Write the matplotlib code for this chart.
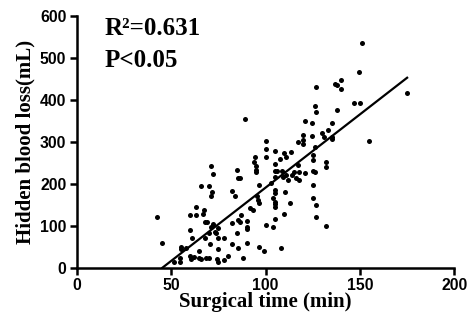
#!/usr/bin/env python3
"""Scatter of hidden blood loss against surgical time with linear fit."""

import numpy as np
import matplotlib
matplotlib.use("Agg")
import matplotlib.pyplot as plt

surgical_time = [
    42.7, 45, 51.7, 54.7, 54.7, 55, 55, 58, 60, 60, 61, 60, 60.5, 62, 63, 63,
    65, 65, 66, 66, 67, 67.4, 68, 68, 68.5, 69, 70, 70, 70, 70.6, 71, 71, 71.7,
    72, 71.3, 72, 73, 74, 74.3, 75, 75, 75, 74.8, 78, 78, 80, 82, 82, 82, 84,
    85, 85.4, 85, 85.4, 85.4, 86.5, 86.5, 87, 88, 89, 90, 90, 90, 90, 92, 93.5,
    94, 94.4, 95, 95, 95, 95.3, 96, 96.4, 96.7, 96.4, 99, 100, 100, 100, 100,
    102.7, 104, 105, 105, 105, 105, 105, 105, 104, 105, 105, 105, 105, 106,
    107.7, 108, 108.6, 109.4, 110, 110.3, 110, 111, 111, 112, 113, 113.5, 114,
    115, 116, 117, 117, 118, 118, 120, 120, 120, 121, 121, 124.4, 124.4, 125,
    125, 125, 125, 125, 126, 126, 126, 126.7, 126.7, 126.7, 126.7, 130, 131,
    132, 132, 132, 133, 135, 135, 135, 137, 138, 138, 140, 140, 147, 150,
    149.7, 151, 155, 175,
]
blood_loss = [
    121, 58, 13, 22, 13, 50, 44, 46, 125, 90, 71, 28, 20, 26, 144, 125,
    40, 24, 20, 194, 127, 137, 110, 70, 22, 110, 82, 24, 194, 56, 243, 171, 181,
    222, 98, 104, 86, 82, 20, 13, 44, 71, 94, 71, 18, 28, 183, 107, 56, 171,
    232, 213, 82, 113, 48, 213, 110, 125, 24, 353, 111, 98, 93, 58, 141, 137,
    252, 264, 243, 232, 229, 171, 161, 50, 198, 153, 40, 302, 283, 264, 102,
    201, 96, 279, 248, 230, 217, 185, 179, 165, 157, 152, 145, 117, 230,
    258, 46, 230, 217, 272, 181, 129, 264, 221, 209, 155, 276, 221,
    229, 214, 300, 244, 229, 209, 316, 304, 294, 350, 226, 344, 313, 268,
    256, 230, 197, 167, 385, 288, 229, 371, 431, 149, 120, 321, 312,
    251, 239, 100, 329, 345, 310, 306, 437, 435, 375, 448, 425, 391, 391,
    467, 534, 302, 417,
]

fit_slope = 3.49
fit_intercept = -158.5
fit_range = [45.4, 175]

x_ticks = [0, 50, 100, 150, 200]
y_ticks = [0, 100, 200, 300, 400, 500, 600]

fig = plt.figure(figsize=(4.69, 3.2), dpi=100)
ax = fig.add_axes([0.1635, 0.1634, 0.8052, 0.7876])

ax.scatter(surgical_time, blood_loss, s=13, color="black", linewidths=0, zorder=3)
fx = np.array(fit_range)
ax.plot(fx, fit_slope * fx + fit_intercept, color="black", lw=1.6, zorder=2)

ax.set_xlim(0, 200)
ax.set_ylim(0, 600)
ax.set_xticks(x_ticks)
ax.set_yticks(y_ticks)
for side in ("top", "right"):
    ax.spines[side].set_visible(False)
for side in ("left", "bottom"):
    ax.spines[side].set_linewidth(1.8)
ax.tick_params(width=1.8, length=5, direction="out", pad=2.5)
for lab in ax.get_xticklabels() + ax.get_yticklabels():
    lab.set_fontfamily("Liberation Sans")
    lab.set_fontweight("bold")
    lab.set_fontsize(11.3)

ax.set_xlabel("Surgical time (min)", fontfamily="Liberation Serif",
              fontweight="bold", fontsize=15, labelpad=-1)
ax.set_ylabel("Hidden blood loss(mL)", fontfamily="Liberation Serif",
              fontweight="bold", fontsize=15, labelpad=3)

ax.text(15, 554, "R\u00b2=0.631", fontfamily="Liberation Serif",
        fontweight="bold", fontsize=18, va="baseline")
ax.text(15, 478, "P<0.05", fontfamily="Liberation Serif",
        fontweight="bold", fontsize=18, va="baseline")

fig.savefig("out.png", dpi=100)
